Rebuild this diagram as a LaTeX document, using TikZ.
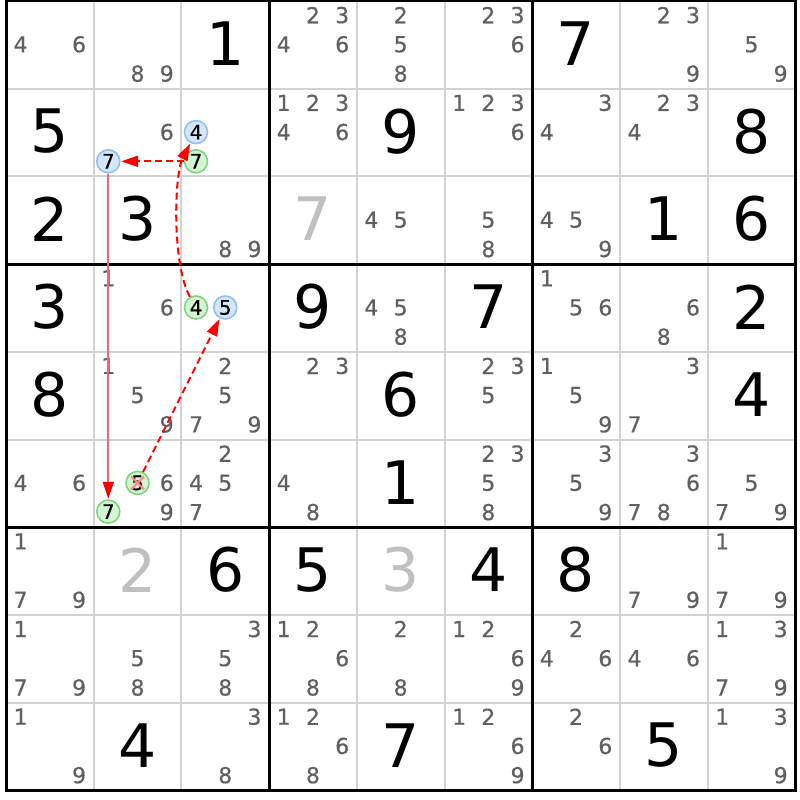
\documentclass[tikz,border=0pt]{standalone}
\usepackage{fontspec}
\setmainfont{DejaVu Sans}
\newfontface\candface{DejaVu Sans}[FakeBold=0.4]
\usetikzlibrary{arrows.meta}
\definecolor{thingrid}{RGB}{210,210,210}
\definecolor{candgray}{RGB}{96,96,96}
\definecolor{solvedgray}{RGB}{192,192,192}
\definecolor{bluefill}{RGB}{212,230,251}
\definecolor{blueline}{RGB}{145,192,240}
\definecolor{greenfill}{RGB}{212,245,212}
\definecolor{greenline}{RGB}{125,212,125}
\definecolor{linkred}{RGB}{242,105,105}
\definecolor{crossred}{RGB}{245,140,140}
\tikzset{
  thinline/.style={draw=thingrid,line width=2pt},
  thickline/.style={draw=black,line width=3pt},
  cand/.style={inner sep=0pt,text=candgray,font=\candface\fontsize{22}{22}\selectfont},
  given/.style={inner sep=0pt,text=black,font=\fontsize{60}{60}\selectfont},
  solved/.style={given,text=solvedgray},
  bluec/.style={circle,minimum size=23pt,inner sep=0pt,fill=bluefill,draw=blueline,line width=1.6pt,text=black,font=\candface\fontsize{20}{20}\selectfont},
  greenc/.style={bluec,fill=greenfill,draw=greenline},
  solidlink/.style={draw=linkred,line width=2pt,-{Triangle[length=17pt,width=11pt,color=red]},shorten >=0.5pt},
  dashlink/.style={draw=red,line width=2pt,dash pattern=on 7pt off 4pt,-{Triangle[length=17pt,width=11pt,color=red]},shorten >=0.5pt},
  crossmark/.style={draw=crossred,line width=2.2pt}
}
\begin{document}
\begin{tikzpicture}[x=1pt,y=-1pt]
\useasboundingbox (0,0) rectangle (800,800);
\fill[white] (0,0) rectangle (800,800);
% thin grid lines
\foreach \i in {1,2,4,5,7,8} {
  \draw[thinline] (6+\i*87.7,1) -- (6+\i*87.7,790.3);
  \draw[thinline] (6,1+\i*87.7) -- (795.3,1+\i*87.7);
}
% thick grid lines
\foreach \i in {0,3,6,9} {
  \draw[thickline] (6+\i*87.7,1) -- (6+\i*87.7,790.3);
  \draw[thickline] (6,1+\i*87.7) -- (795.3,1+\i*87.7);
}
\draw[thickline] (6,1) rectangle (795.3,790.3);
% given digits
\foreach \r/\c/\v in {1/3/1,1/7/7,2/1/5,2/5/9,2/9/8,3/1/2,3/2/3,3/8/1,3/9/6,
  4/1/3,4/4/9,4/6/7,4/9/2,5/1/8,5/5/6,5/9/4,6/5/1,
  7/3/6,7/4/5,7/6/4,7/7/8,9/2/4,9/5/7,9/8/5} {
  \node[given] (g\r\c) at (6+\c*87.7-43.85,1+\r*87.7-45) {\v};
}
% solved (gray) digits
\foreach \r/\c/\v in {3/4/7,7/2/2,7/5/3} {
  \node[solved] (s\r\c) at (6+\c*87.7-43.85,1+\r*87.7-45) {\v};
}
% candidates
\foreach \r/\c/\l in {1/1/{4,6},1/2/{8,9},1/4/{2,3,4,6},1/5/{2,5,8},1/6/{2,3,6},1/8/{2,3,9},1/9/{5,9},
  2/2/{6},2/4/{1,2,3,4,6},2/6/{1,2,3,6},2/7/{3,4},2/8/{2,3,4},
  3/3/{8,9},3/5/{4,5},3/6/{5,8},3/7/{4,5,9},
  4/2/{1,6},4/5/{4,5,8},4/7/{1,5,6},4/8/{6,8},
  5/2/{1,5,9},5/3/{2,5,7,9},5/4/{2,3},5/6/{2,3,5},5/7/{1,5,9},5/8/{3,7},
  6/1/{4,6},6/2/{6,9},6/3/{2,4,5,7},6/4/{4,8},6/6/{2,3,5,8},6/7/{3,5,9},6/8/{3,6,7,8},6/9/{5,7,9},
  7/1/{1,7,9},7/8/{7,9},7/9/{1,7,9},
  8/1/{1,7,9},8/2/{5,8},8/3/{3,5,8},8/4/{1,2,6,8},8/5/{2,8},8/6/{1,2,6,9},8/7/{2,4,6},8/8/{4,6},8/9/{1,3,7,9},
  9/1/{1,9},9/3/{3,8},9/4/{1,2,6,8},9/6/{1,2,6,9},9/7/{2,6},9/9/{1,3,9}} {
  \foreach \d in \l {
    \pgfmathsetmacro\px{6+(\c-1)*87.7+87.7*(2*mod(\d-1,3)+1)/6}
    \pgfmathsetmacro\py{1+(\r-1)*87.7+87.7*(2*floor((\d-1)/3)+1)/6-0.5}
    \node[cand] (k\r\c\d) at (\px,\py) {\d};
  }
}
% highlighted candidates
\node[bluec]  (bA) at (108.3,161.3) {7};
\node[bluec]  (bB) at (196.0,132.1) {4};
\node[greenc] (gA) at (196.0,161.3) {7};
\node[greenc] (gB) at (196.0,307.5) {4};
\node[bluec]  (bC) at (225.25,307.5) {5};
\node[greenc] (gC) at (137.55,482.9) {5};
\node[greenc] (gD) at (108.3,511.6) {7};
\draw[crossmark] ([shift={(-6.5,-6.5)}]gC.center) -- ([shift={(6.5,6.5)}]gC.center);
\draw[crossmark] ([shift={(-6.5,6.5)}]gC.center) -- ([shift={(6.5,-6.5)}]gC.center);
% links
\draw[solidlink] (bA) -- (gD);
\draw[dashlink] (gA) -- (bA);
\draw[dashlink] (gB) .. controls (172,265) and (174,175) .. (bB);
\draw[dashlink] (gC) -- (bC);
\end{tikzpicture}
\end{document}
